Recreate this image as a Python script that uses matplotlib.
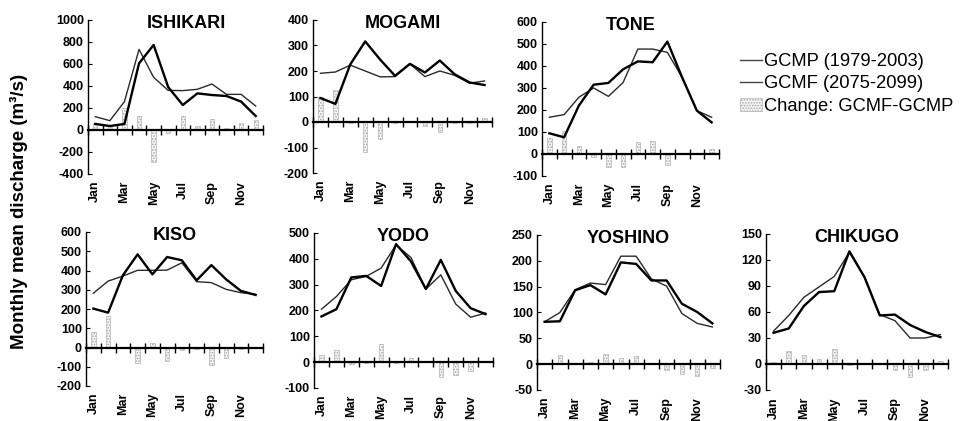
import matplotlib
matplotlib.use('Agg')
import matplotlib.pyplot as plt
import matplotlib.transforms as mtransforms
from matplotlib.lines import Line2D
from matplotlib.patches import Patch
import numpy as np

plt.rcParams['font.family'] = ['Liberation Sans', 'DejaVu Sans']
plt.rcParams['hatch.linewidth'] = 0.8
plt.rcParams['axes.unicode_minus'] = False

# ---------------- data ----------------
months = [1, 2, 3, 4, 5, 6, 7, 8, 9, 10, 11, 12]
month_tick_pos = [1, 3, 5, 7, 9, 11]
month_tick_labels = ['Jan', 'Mar', 'May', 'Jul', 'Sep', 'Nov']

rivers = ['ISHIKARI', 'MOGAMI', 'TONE', 'KISO', 'YODO', 'YOSHINO', 'CHIKUGO']

ishikari_gcmp = [55, 36, 55, 606, 773, 390, 227, 333, 318, 309, 258, 127]
ishikari_gcmf = [121, 85, 258, 733, 479, 360, 358, 370, 418, 324, 324, 218]
ishikari_change = [66, 49, 203, 127, -294, -30, 131, 37, 100, 15, 66, 91]

mogami_gcmp = [94, 71, 226, 316, 245, 181, 228, 194, 241, 187, 155, 145]
mogami_gcmf = [191, 196, 223, 200, 177, 178, 228, 178, 200, 183, 152, 161]
mogami_change = [97, 125, -3, -116, -68, -3, 0, -16, -41, -4, -3, 16]

tone_gcmp = [94, 76, 220, 315, 323, 385, 421, 417, 511, 348, 197, 144]
tone_gcmf = [167, 179, 258, 300, 262, 325, 477, 477, 462, 348, 197, 167]
tone_change = [73, 103, 38, -15, -61, -60, 56, 60, -49, 0, 0, 23]

kiso_gcmp = [202, 181, 375, 484, 380, 470, 453, 349, 428, 354, 294, 273]
kiso_gcmf = [282, 345, 371, 401, 401, 402, 440, 342, 337, 302, 285, 276]
kiso_change = [80, 164, -4, -83, 21, -68, -13, -7, -91, -52, -9, 3]

yodo_gcmp = [177, 205, 328, 334, 295, 457, 390, 283, 396, 276, 209, 186]
yodo_gcmf = [205, 254, 319, 332, 364, 454, 405, 283, 338, 225, 174, 190]
yodo_change = [28, 49, -9, -2, 69, -3, 15, 0, -58, -51, -35, 4]

yoshino_gcmp = [82, 83, 143, 153, 135, 197, 194, 162, 162, 117, 101, 79]
yoshino_gcmf = [82, 100, 144, 157, 154, 209, 209, 165, 151, 98, 79, 72]
yoshino_change = [0, 17, 1, 4, 19, 12, 15, 3, -11, -19, -22, -7]

chikugo_gcmp = [36, 41, 67, 83, 84, 130, 100, 56, 57, 45, 37, 31]
chikugo_gcmf = [38, 56, 77, 89, 101, 129, 100, 57, 50, 30, 30, 34]
chikugo_change = [2, 15, 10, 6, 17, -1, 0, 1, -7, -15, -7, 3]

gcmp_data = [ishikari_gcmp, mogami_gcmp, tone_gcmp, kiso_gcmp, yodo_gcmp, yoshino_gcmp, chikugo_gcmp]
gcmf_data = [ishikari_gcmf, mogami_gcmf, tone_gcmf, kiso_gcmf, yodo_gcmf, yoshino_gcmf, chikugo_gcmf]
change_data = [ishikari_change, mogami_change, tone_change, kiso_change, yodo_change, yoshino_change, chikugo_change]

# y-axis tick ranges (min, max, step)
y_ranges = [(-400, 1000, 200), (-200, 400, 100), (-100, 600, 100),
            (-200, 600, 100), (-100, 500, 100), (-50, 250, 50), (-30, 150, 30)]

legend_labels = ['GCMP (1979-2003)', 'GCMF (2075-2099)', 'Change: GCMF-GCMP']

# ---------------- layout (pixel boxes: left, right, top, bottom) ----------------
W, H = 963, 421
boxes = [(88, 263, 20, 174), (313, 492, 20, 173), (542, 719, 22, 176),
         (86, 263, 232, 386), (314, 493, 233, 388), (537, 720, 235, 390),
         (766, 948, 234, 390)]
title_x = [0.56, 0.5, 0.5, 0.5, 0.5, 0.5, 0.5]

fig = plt.figure(figsize=(W / 100, H / 100), dpi=100)
fig.patch.set_facecolor('white')

bar_face = '#f6f6f6'
bar_edge = '#a5a5a5'

for i, name in enumerate(rivers):
    l, r, t, b = boxes[i]
    ax = fig.add_axes([l / W, 1 - b / H, (r - l) / W, (b - t) / H])
    ymin, ymax, ystep = y_ranges[i]

    ax.bar(months, change_data[i], width=0.3, facecolor=bar_face,
           edgecolor=bar_edge, hatch='......', linewidth=0.4, zorder=1)
    ax.plot(months, gcmf_data[i], color='#2a2a2a', lw=1.0, zorder=3)
    ax.plot(months, gcmp_data[i], color='black', lw=1.7, zorder=4)

    ax.set_xlim(0.5, 12.5)
    ax.set_ylim(ymin, ymax)
    ax.set_yticks(np.arange(ymin, ymax + ystep / 2, ystep))
    ax.set_xticks(np.arange(0.5, 12.6, 1.0))

    for s in ['top', 'right']:
        ax.spines[s].set_visible(False)
    ax.spines['bottom'].set_position(('data', 0))
    ax.spines['bottom'].set_linewidth(1.6)
    ax.spines['left'].set_linewidth(1.0)

    ax.tick_params(axis='x', direction='inout', length=7, width=1.0,
                   labelbottom=False)
    ax.tick_params(axis='y', direction='in', length=3, width=0.8,
                   labelsize=9, pad=3)
    for lbl in ax.get_yticklabels():
        lbl.set_fontweight('bold')

    trans = mtransforms.blended_transform_factory(ax.transData, ax.transAxes)
    for mpos, mlab in zip(month_tick_pos, month_tick_labels):
        ax.text(mpos, -0.045, mlab, transform=trans, rotation=90,
                ha='center', va='top', fontsize=9, fontweight='bold')

    ax.text(title_x[i], 1.03, name, transform=ax.transAxes, ha='center',
            va='top', fontsize=13, fontweight='bold')
    ax.patch.set_alpha(0)

fig.text(19 / W, 1 - 211 / H, 'Monthly mean discharge (m³/s)', rotation=90,
         ha='center', va='center', fontsize=13.5, fontweight='bold')

handles = [Line2D([], [], color='#444444', lw=1.0),
           Line2D([], [], color='#444444', lw=1.0),
           Patch(facecolor=bar_face, edgecolor=bar_edge, hatch='......', linewidth=0.4)]
fig.legend(handles, legend_labels, loc='upper left',
           bbox_to_anchor=(740 / W, 1 - 53 / H), frameon=False, fontsize=13.2,
           handlelength=1.2, handletextpad=0.12, labelspacing=0.3,
           borderaxespad=0, borderpad=0)

fig.savefig('out.png', dpi=100, facecolor='white')
